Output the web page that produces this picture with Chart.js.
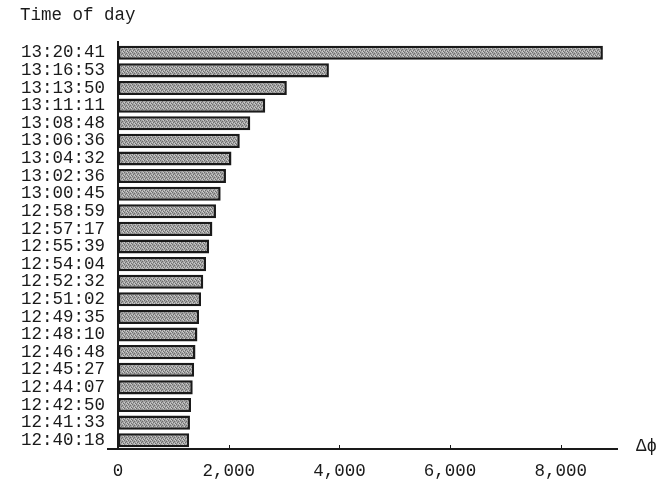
<!DOCTYPE html>
<html>
<head>
<meta charset="utf-8">
<script src="https://cdn.jsdelivr.net/npm/chart.js@4/dist/chart.umd.min.js"></script>
<style>
  html, body { margin: 0; padding: 0; background: #fff; }
  #wrap { width: 658px; height: 487px; }
</style>
</head>
<body>
<div id="wrap"><canvas id="c" width="658" height="487"></canvas></div>
<script>
// Time of each reading, latest at the top
const times = ["13:20:41","13:16:53","13:13:50","13:11:11","13:08:48","13:06:36","13:04:32",
  "13:02:36","13:00:45","12:58:59","12:57:17","12:55:39","12:54:04","12:52:32","12:51:02",
  "12:49:35","12:48:10","12:46:48","12:45:27","12:44:07","12:42:50","12:41:33","12:40:18"];
// Phase change at each reading
const deltaPhi = [8760,3810,3050,2660,2390,2200,2050,1950,1855,1770,1705,1645,1590,1540,1500,
  1465,1435,1400,1375,1350,1320,1300,1285];
// Labelled x ticks
const xTicks = [0,2000,4000,6000,8000];

const FONT = '"Liberation Mono", "DejaVu Sans Mono", monospace';
const INK = '#1a1a1a';

// Halftone-like grey fill for the bars
function halftone() {
  const t = document.createElement('canvas');
  t.width = 4; t.height = 4;
  const g = t.getContext('2d');
  g.fillStyle = '#a2a2a2'; g.fillRect(0, 0, 4, 4);
  g.fillStyle = '#6e6e6e';
  g.fillRect(0, 0, 1, 1); g.fillRect(2, 1, 1, 1); g.fillRect(1, 2, 1, 1); g.fillRect(3, 3, 1, 1);
  g.fillStyle = '#cdcdcd';
  g.fillRect(2, 3, 1, 1); g.fillRect(0, 2, 1, 1); g.fillRect(3, 0, 1, 1);
  return document.getElementById('c').getContext('2d').createPattern(t, 'repeat');
}

// Axes, tick marks, title and axis name
const frame = {
  id: 'frame',
  afterDatasetsDraw(chart) {
    const { ctx, chartArea: a, scales: { x } } = chart;
    const x0 = x.getPixelForValue(0);
    ctx.save();
    ctx.strokeStyle = INK;
    ctx.lineWidth = 2;
    ctx.beginPath();
    ctx.moveTo(x0, a.top - 3);
    ctx.lineTo(x0, a.bottom);
    ctx.moveTo(x0 - 11, a.bottom);
    ctx.lineTo(a.right, a.bottom);
    ctx.stroke();
    ctx.lineWidth = 1;
    ctx.beginPath();
    xTicks.slice(1).forEach(v => {
      const px = Math.round(x.getPixelForValue(v)) + 0.5;
      ctx.moveTo(px, a.bottom);
      ctx.lineTo(px, a.bottom - 4);
    });
    ctx.stroke();
    ctx.fillStyle = INK;
    ctx.font = '17.5px ' + FONT;
    ctx.textBaseline = 'middle';
    ctx.textAlign = 'left';
    ctx.fillText('Time of day', 20, 15);
    ctx.fillText('Δϕ', 636, a.bottom - 3);
    ctx.restore();
  }
};

new Chart(document.getElementById('c'), {
  type: 'bar',
  data: {
    labels: times,
    datasets: [{
      data: deltaPhi,
      backgroundColor: halftone(),
      borderColor: INK,
      borderWidth: 2.5,
      borderSkipped: false,
      barPercentage: 0.8,
      categoryPercentage: 1.0
    }]
  },
  options: {
    indexAxis: 'y',
    responsive: false,
    animation: false,
    layout: { padding: { top: 44, right: 40, left: 0, bottom: 0 } },
    plugins: { legend: { display: false }, tooltip: { enabled: false } },
    scales: {
      x: {
        type: 'linear',
        min: 0,
        max: 9033,
        afterBuildTicks(s) { s.ticks = xTicks.map(v => ({ value: v })); },
        afterFit(s) { s.height = 38; },
        grid: { display: false, drawTicks: false },
        border: { display: false },
        ticks: {
          color: INK,
          font: { family: FONT, size: 17.5 },
          padding: 12,
          maxRotation: 0,
          callback: v => v.toLocaleString('en-US')
        }
      },
      y: {
        afterFit(s) { s.width = 118; },
        grid: { display: false, drawTicks: false },
        border: { display: false },
        ticks: {
          color: INK,
          font: { family: FONT, size: 17.5, lineHeight: 1 },
          padding: 13,
          autoSkip: false
        }
      }
    }
  },
  plugins: [frame]
});
</script>
</body>
</html>
